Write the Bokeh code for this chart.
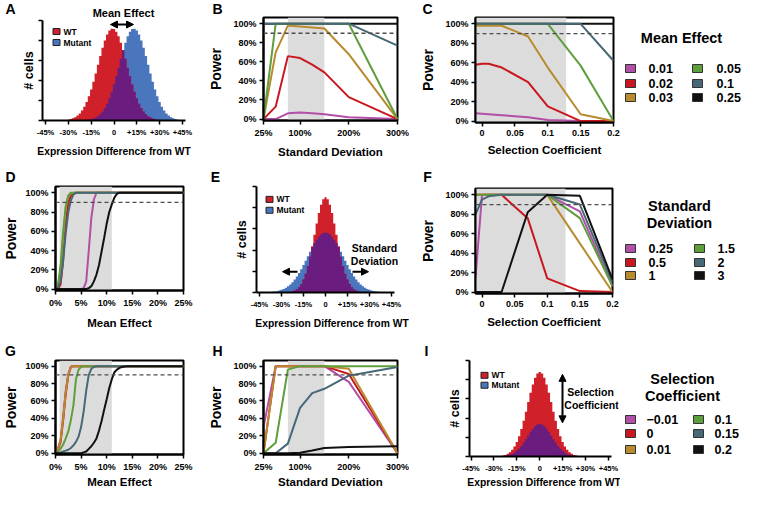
import math
from bokeh.plotting import figure
from bokeh.layouts import row, column
from bokeh.models import Range1d, FixedTicker, BoxAnnotation, Span, Label, Arrow, NormalHead
from bokeh.embed import file_html
from bokeh.resources import INLINE
from bokeh.core.properties import value

FONT = "Liberation Sans"

# ---------------- data ----------------
ME_SERIES = ["0.01", "0.02", "0.03", "0.05", "0.1", "0.25"]
SD_SERIES = ["0.25", "0.5", "1", "1.5", "2", "3"]
SC_SERIES = ["\u22120.01", "0", "0.01", "0.1", "0.15", "0.2"]
SERIES_COLORS = ["#b24fa6", "#c9171f", "#b98b2f", "#5f9e3d", "#476876", "#111111"]

POWER_TICKS = [0, 20, 40, 60, 80, 100]
POWER_TICK_LABELS = ["0%", "20%", "40%", "60%", "80%", "100%"]

SD_X = [25, 50, 75, 100, 125, 150, 200, 300]
SD_TICKS = [25, 100, 200, 300]
SD_TICK_LABELS = ["25%", "100%", "200%", "300%"]

SC_X = [-0.01, 0, 0.01, 0.03, 0.07, 0.1, 0.15, 0.2]
SC_TICKS = [0, 0.05, 0.1, 0.15, 0.2]
SC_TICK_LABELS = ["0", "0.05", "0.1", "0.15", "0.2"]

ME_X = [0, 0.5, 1, 1.5, 2, 2.5, 3, 3.5, 4, 4.5, 5, 5.5, 6, 6.5, 7, 7.5, 8, 8.5,
        9, 9.5, 10, 10.5, 11, 11.5, 12, 12.5, 13, 13.5, 14, 25]
ME_TICKS = [0, 5, 10, 15, 20, 25]
ME_TICK_LABELS = ["0%", "5%", "10%", "15%", "20%", "25%"]

EXPR_TICKS = [-45, -30, -15, 0, 15, 30, 45]
EXPR_TICK_LABELS = ["-45%", "-30%", "-15%", "0", "+15%", "+30%", "+45%"]
CELL_TICKS = [0, 0.2, 0.4, 0.6, 0.8, 1.0]

# B: power vs standard deviation, one series per mean effect
B_POWER = [
    [0, 0, 6, 7, 6, 5, 2, 0],
    [0, 13, 66, 64, 57, 49, 23, 0],
    [0, 70, 98, 97, 96, 95, 68, 0],
    [0, 100, 100, 100, 100, 100, 100, 0],
    [100, 100, 100, 100, 100, 100, 100, 77],
    [100, 100, 100, 100, 100, 100, 100, 100],
]
# C: power vs selection coefficient, one series per mean effect
C_POWER = [
    [8, 7.5, 7, 6, 4, 1, 0, 0],
    [58, 59, 59, 55, 40, 15, 0, 0],
    [98, 98, 98, 98, 87, 55, 7, 0],
    [100, 100, 100, 100, 100, 100, 57, 0],
    [100, 100, 100, 100, 100, 100, 100, 62],
    [100, 100, 100, 100, 100, 100, 100, 100],
]
# D: power vs mean effect, one series per standard deviation
D_POWER = [
    [0, 0, 0, 0, 0, 0, 0, 0, 0, 0, 0, 1, 8, 40, 74, 93, 100, 100, 100, 100, 100, 100, 100, 100, 100, 100, 100, 100, 100, 100],
    [0, 0, 5, 30, 70, 90, 97, 99, 100, 100, 100, 100, 100, 100, 100, 100, 100, 100, 100, 100, 100, 100, 100, 100, 100, 100, 100, 100, 100, 100],
    [0, 3, 20, 55, 85, 97, 99, 100, 100, 100, 100, 100, 100, 100, 100, 100, 100, 100, 100, 100, 100, 100, 100, 100, 100, 100, 100, 100, 100, 100],
    [1, 5, 25, 60, 86, 97, 100, 100, 100, 100, 100, 100, 100, 100, 100, 100, 100, 100, 100, 100, 100, 100, 100, 100, 100, 100, 100, 100, 100, 100],
    [0, 2, 8, 30, 58, 80, 92, 98, 100, 100, 100, 100, 100, 100, 100, 100, 100, 100, 100, 100, 100, 100, 100, 100, 100, 100, 100, 100, 100, 100],
    [0, 0, 0, 0, 0, 0, 0, 0, 0, 0, 0, 0, 0, 1, 3, 8, 15, 25, 39, 53, 68, 80, 88, 95, 99, 100, 100, 100, 100, 100],
]
# F: power vs selection coefficient, one series per standard deviation
F_POWER = [
    [15, 100, 100, 100, 100, 100, 83, 6],
    [100, 100, 100, 100, 76, 14, 1, 0],
    [100, 100, 100, 100, 100, 100, 50, 0],
    [100, 100, 100, 100, 100, 100, 76, 6],
    [80, 95, 98.5, 100, 100, 100, 90, 10],
    [0, 0, 0, 0, 82, 100, 99, 13],
]
# G: power vs mean effect, one series per selection coefficient
G_POWER = [
    [3, 6, 16, 42, 72, 91, 99.5, 100, 100, 100, 100, 100, 100, 100, 100, 100, 100, 100, 100, 100, 100, 100, 100, 100, 100, 100, 100, 100, 100, 100],
    [1, 4, 13, 38, 68, 89, 99, 100, 100, 100, 100, 100, 100, 100, 100, 100, 100, 100, 100, 100, 100, 100, 100, 100, 100, 100, 100, 100, 100, 100],
    [2, 5, 15, 40, 70, 90, 99, 100, 100, 100, 100, 100, 100, 100, 100, 100, 100, 100, 100, 100, 100, 100, 100, 100, 100, 100, 100, 100, 100, 100],
    [0, 2, 5, 10, 17, 25, 38, 55, 85, 96, 99, 100, 100, 100, 100, 100, 100, 100, 100, 100, 100, 100, 100, 100, 100, 100, 100, 100, 100, 100],
    [0, 0, 1, 2, 3, 4, 6, 9, 13, 19, 30, 48, 72, 90, 97, 99, 100, 100, 100, 100, 100, 100, 100, 100, 100, 100, 100, 100, 100, 100],
    [0, 0, 0, 0, 0, 0, 0, 0, 0, 0, 0, 1, 2, 5, 8, 12, 17, 26, 37, 50, 62, 75, 85, 93, 96, 98, 99, 99.5, 100, 100],
]
# H: power vs standard deviation, one series per selection coefficient
H_POWER = [
    [30, 100, 100, 100, 100, 100, 82, 0],
    [0, 100, 100, 100, 100, 100, 91, 0],
    [0, 100, 100, 100, 100, 100, 97, 0],
    [0, 12, 96, 100, 100, 100, 100, 100],
    [0, 0, 11, 52, 69, 74, 89, 99],
    [0, 0, 0, 0.5, 3, 6, 7, 8],
]

# distributions (mean %, sd %, peak height as fraction of axis)
A_WT = (-1, 9.5, 0.92)
A_MUT = (13, 9.5, 0.92)
E_WT = (0, 7.5, 0.898)
E_MUT = (0, 12, 0.565)
I_WT = (0, 8, 0.88)
I_MUT = (0, 8, 0.34)

WT_COLOR = "#d0202a"
MUT_COLOR = "#4a76bd"
OVERLAP_COLOR = "#6a1d7e"
BAND_COLOR = "#dcdcdc"

# ---------------- layout constants (pixels from top-left of the layout) ----------------
COL_X = [0, 193, 409, 620]
COL_W = [193, 216, 211, 122]
ROW_Y = [0, 160, 331]
ROW_H = [160, 171, 159]
PWR_RANGE = (-1.5, 106.5)


def no_align(p):
    try:
        p.frame_align = False
    except Exception:
        pass


def blank_fig(x0, y0, w, h):
    p = figure(width=w, height=h, x_range=Range1d(x0, x0 + w), y_range=Range1d(y0 + h, y0),
               output_backend="svg", toolbar_location=None, title=None, min_border=0,
               x_axis_location=None, y_axis_location=None)
    no_align(p)
    p.xgrid.visible = False
    p.ygrid.visible = False
    p.outline_line_color = None
    p.background_fill_color = "white"
    p.border_fill_color = "white"
    return p


def strip(c, r, h, texts):
    p = blank_fig(COL_X[c], ROW_Y[r], COL_W[c], h)
    for (x, y, t, size) in texts:
        p.text(x=[x], y=[y], text=[t], text_font=value(FONT), text_font_style="bold",
               text_font_size=size, text_align="center", text_baseline="middle",
               text_color="black")
    return p


def make_fig(c, r, top_offset, frame, xr, yr):
    tx, tw = COL_X[c], COL_W[c]
    ty = ROW_Y[r] + top_offset
    th = ROW_H[r] - top_offset
    L, T, R, B = frame
    p = figure(width=tw, height=th, x_range=Range1d(*xr), y_range=Range1d(*yr),
               output_backend="svg", toolbar_location=None, title=None,
               min_border_left=L - tx, min_border_right=tx + tw - R,
               min_border_top=T - ty, min_border_bottom=ty + th - B)
    no_align(p)
    p.xgrid.visible = False
    p.ygrid.visible = False
    p.background_fill_color = "white"
    p.border_fill_color = "white"
    p._frame = frame
    p._xr = xr
    p._yr = yr
    return p


def to_data(p, px, py):
    L, T, R, B = p._frame
    xr, yr = p._xr, p._yr
    x = xr[0] + (px - L) * (xr[1] - xr[0]) / (R - L)
    y = yr[0] + (B - py) * (yr[1] - yr[0]) / (B - T)
    return x, y


def add_text(p, px, py, text, size, align="center"):
    x, y = to_data(p, px, py)
    p.add_layout(Label(x=x, y=y, text=text, text_font=FONT, text_font_style="bold",
                       text_font_size=size, text_align=align, text_baseline="middle",
                       text_color="black"))


def add_arrow(p, p0, p1, both=False):
    x0, y0 = to_data(p, *p0)
    x1, y1 = to_data(p, *p1)
    start = NormalHead(size=7, fill_color="black", line_color="black") if both else None
    p.add_layout(Arrow(x_start=x0, y_start=y0, x_end=x1, y_end=y1, line_width=2,
                       line_color="black", start=start,
                       end=NormalHead(size=7, fill_color="black", line_color="black")))


def style_axis(ax, tick_size, label_size, label_standoff):
    ax.axis_line_width = 2
    ax.axis_line_color = "black"
    ax.major_tick_line_width = 1.5
    ax.major_tick_line_color = "black"
    ax.major_tick_out = 4
    ax.major_tick_in = 0
    ax.minor_tick_line_color = None
    ax.major_label_text_font = FONT
    ax.major_label_text_font_style = "bold"
    ax.major_label_text_font_size = tick_size
    ax.major_label_text_color = "black"
    ax.major_label_standoff = 3
    ax.axis_label_text_font = FONT
    ax.axis_label_text_font_style = "bold"
    ax.axis_label_text_font_size = label_size
    ax.axis_label_text_color = "black"
    ax.axis_label_standoff = label_standoff


def power_panel(c, r, top_offset, frame, xr, xs, series, order, xticks, xlabels, xtitle,
                band, xstand, ystand):
    p = make_fig(c, r, top_offset, frame, xr, PWR_RANGE)
    p.outline_line_color = "black"
    p.outline_line_width = 2
    p.add_layout(BoxAnnotation(left=band[0], right=band[1], fill_color=BAND_COLOR,
                               fill_alpha=1, line_alpha=0, level="underlay"))
    for i in order:
        p.line(xs, series[i], line_color=SERIES_COLORS[i], line_width=2)
    p.add_layout(Span(location=90, dimension="width", line_color="#4d4d4d",
                      line_dash="4 3", line_width=1.3))
    xa = p.xaxis[0]
    ya = p.yaxis[0]
    style_axis(xa, "9px", "11.5px", xstand)
    style_axis(ya, "9px", "14px", ystand)
    xa.ticker = FixedTicker(ticks=xticks)
    xa.major_label_overrides = dict(zip(xticks, xlabels))
    ya.ticker = FixedTicker(ticks=POWER_TICKS)
    ya.major_label_overrides = dict(zip(POWER_TICKS, POWER_TICK_LABELS))
    xa.axis_label = xtitle
    ya.axis_label = "Power"
    return p


def gauss(xs, params):
    mean, sd, peak = params
    return [peak * math.exp(-0.5 * ((x - mean) / sd) ** 2) for x in xs]


def dist_panel(c, r, top_offset, frame, xr, xbounds, wt, mut, legend_pos, xstand, ystand):
    p = make_fig(c, r, top_offset, frame, xr, (0, 1))
    p.outline_line_color = None
    xs = [-46.5 + 1.5 * k for k in range(63)]
    hw = gauss(xs, wt)
    hm = gauss(xs, mut)
    ho = [min(a, b) for a, b in zip(hw, hm)]
    zeros = [0] * len(xs)
    p.varea_step(x=xs, y1=zeros, y2=hm, step_mode="center", fill_color=MUT_COLOR)
    p.varea_step(x=xs, y1=zeros, y2=hw, step_mode="center", fill_color=WT_COLOR)
    p.varea_step(x=xs, y1=zeros, y2=ho, step_mode="center", fill_color=OVERLAP_COLOR)
    xa = p.xaxis[0]
    ya = p.yaxis[0]
    style_axis(xa, "7.5px", "10.3px", xstand)
    style_axis(ya, "7px", "12.5px", ystand)
    xa.bounds = xbounds
    ya.major_label_standoff = 0
    xa.ticker = FixedTicker(ticks=EXPR_TICKS)
    xa.major_label_overrides = dict(zip(EXPR_TICKS, EXPR_TICK_LABELS))
    ya.ticker = FixedTicker(ticks=CELL_TICKS)
    ya.major_label_overrides = {t: "" for t in CELL_TICKS}
    xa.axis_label = "Expression Difference from WT"
    ya.axis_label = "# cells"
    # small legend
    lx, ly, dy = legend_pos
    sx, sy = [], []
    for k in range(2):
        x, y = to_data(p, lx, ly + k * dy)
        sx.append(x)
        sy.append(y)
    p.rect(x=sx, y=sy, width=7, height=6, width_units="screen", height_units="screen",
           fill_color=[WT_COLOR, MUT_COLOR], line_color="#222222", line_width=1)
    tx, _ = to_data(p, lx + 7, ly)
    p.text(x=[tx, tx], y=sy, text=["WT", "Mutant"], text_font=value(FONT),
           text_font_style="bold", text_font_size="8.5px", text_baseline="middle",
           text_align="left", text_color="black")
    return p


def legend_panel(r, title_lines, labels, swatch_x, text_x, rows_y):
    p = blank_fig(COL_X[3], ROW_Y[r], COL_W[3], ROW_H[r])
    for (x, y, t) in title_lines:
        p.text(x=[x], y=[y], text=[t], text_font=value(FONT), text_font_style="bold",
               text_font_size="14.5px", text_align="center", text_baseline="middle",
               text_color="black")
    sxs = [swatch_x[i // 3] for i in range(len(labels))]
    sys_ = [rows_y[i % 3] for i in range(len(labels))]
    txs = [text_x[i // 3] for i in range(len(labels))]
    p.rect(x=sxs, y=sys_, width=10, height=8, width_units="screen", height_units="screen",
           fill_color=SERIES_COLORS, line_color="#333333", line_width=1)
    p.text(x=txs, y=sys_, text=labels, text_font=value(FONT), text_font_style="bold",
           text_font_size="12.5px", text_align="left", text_baseline="middle",
           text_color="black")
    return p


LETTER = "14px"

# ---------------- row 1 ----------------
sA = strip(0, 0, 19, [(10, 8.5, "A", LETTER), (123, 12.5, "Mean Effect", "11px")])
pA = dist_panel(0, 0, 19, (42, 20, 185, 120), (-47, 47), (-47, 47), A_WT, A_MUT,
                (56, 31, 11), 6, 3)
add_arrow(pA, (110, 24), (133, 24), both=True)
sB = strip(1, 0, 16, [(217, 8, "B", LETTER)])
pB = power_panel(1, 0, 16, (263, 17, 397, 122), (25, 300), SD_X, B_POWER, [5, 0, 1, 2, 3, 4],
                 SD_TICKS, SD_TICK_LABELS, "Standard Deviation", (75, 150), 5, 6)
sC = strip(2, 0, 16, [(427, 8, "C", LETTER)])
pC = power_panel(2, 0, 16, (475, 17, 613, 122), (-0.01, 0.2), SC_X, C_POWER, [5, 0, 1, 2, 3, 4],
                 SC_TICKS, SC_TICK_LABELS, "Selection Coefficient", (-0.01, 0.128), 5, 6)
L1 = legend_panel(0, [(681, 37, "Mean Effect")], ME_SERIES, [630, 697], [648, 716], [68, 83, 97])

# ---------------- row 2 ----------------
sD = strip(0, 1, 25, [(10, 176.5, "D", LETTER)])
pD = power_panel(0, 1, 25, (48, 186, 183, 291), (0, 25), ME_X, D_POWER, [0, 1, 2, 3, 4, 5],
                 ME_TICKS, ME_TICK_LABELS, "Mean Effect", (0.8, 11), 6, 3)
sE = strip(1, 1, 25, [(215, 176.5, "E", LETTER)])
pE = dist_panel(1, 1, 25, (256, 186, 407, 293), (-47, 47 + 13 / 1.468), (-47, 47), E_WT, E_MUT,
                (269, 199, 11), 6, 4)
add_text(pE, 374, 248, "Standard", "10.5px")
add_text(pE, 374, 261, "Deviation", "10.5px")
add_arrow(pE, (297, 272), (282, 272))
add_arrow(pE, (352, 272), (368, 272))
sF = strip(2, 1, 25, [(427, 176.5, "F", LETTER)])
pF = power_panel(2, 1, 25, (475, 188, 612, 293), (-0.01, 0.2), SC_X, F_POWER, [0, 1, 2, 3, 4, 5],
                 SC_TICKS, SC_TICK_LABELS, "Selection Coefficient", (-0.01, 0.128), 6, 6)
L2 = legend_panel(1, [(679, 205, "Standard"), (679, 222, "Deviation")], SD_SERIES,
                  [630, 699], [648, 717], [248, 262, 275])

# ---------------- row 3 ----------------
sG = strip(0, 2, 28, [(10, 350.5, "G", LETTER)])
pG = power_panel(0, 2, 28, (48, 360, 183, 457), (0, 25), ME_X, G_POWER, [0, 1, 2, 3, 4, 5],
                 ME_TICKS, ME_TICK_LABELS, "Mean Effect", (0.8, 11), 1, 3)
sH = strip(1, 2, 28, [(217, 350.5, "H", LETTER)])
pH = power_panel(1, 2, 28, (263, 360, 397, 457), (25, 300), SD_X, H_POWER, [0, 1, 2, 3, 4, 5],
                 SD_TICKS, SD_TICK_LABELS, "Standard Deviation", (75, 150), 1, 6)
sI = strip(2, 2, 28, [(426, 350.5, "I", LETTER)])
pI = dist_panel(2, 2, 28, (469, 360, 618, 457), (-46, 47 + 7 / 1.527), (-46, 47), I_WT, I_MUT,
                (484, 375, 10), 1, 4)
add_text(pI, 590, 392, "Selection", "10.5px")
add_text(pI, 591, 405, "Coefficient", "10.5px")
add_arrow(pI, (562, 374), (562, 423), both=True)
L3 = legend_panel(2, [(682, 378, "Selection"), (682, 395, "Coefficient")], SC_SERIES,
                  [630, 698], [646, 714], [419, 433, 449])

layout = column(
    row(column(sA, pA), column(sB, pB), column(sC, pC), L1),
    row(column(sD, pD), column(sE, pE), column(sF, pF), L2),
    row(column(sG, pG), column(sH, pH), column(sI, pI), L3),
)

open("out.html", "w").write(file_html(layout, INLINE))
